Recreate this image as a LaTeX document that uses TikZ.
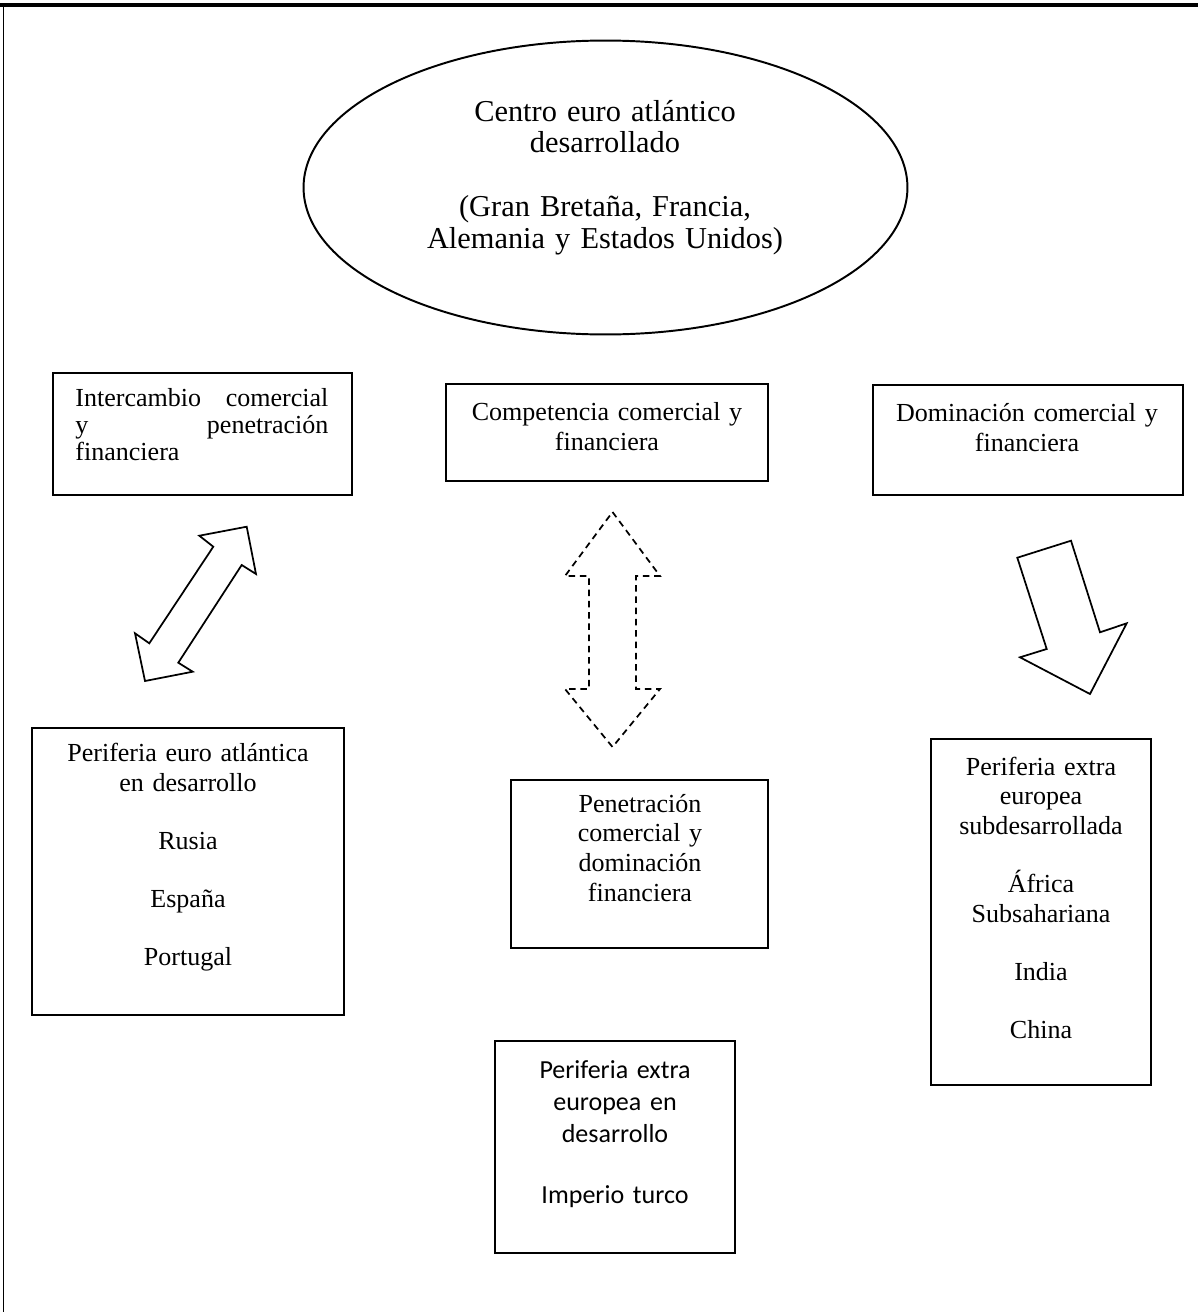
\documentclass[tikz,border=0pt]{standalone}
\usepackage{fontspec}
\setmainfont{Liberation Serif}
\newfontfamily\calibrifont{Carlito}
\usetikzlibrary{fit,shapes.geometric}
\begin{document}
\begin{tikzpicture}[x=0.461pt,y=-0.461pt,
  rectbox/.style={draw=black, line width=1pt, inner sep=0pt, outer sep=0pt},
  blockarrow/.style={draw=black, line width=0.8pt, line join=miter},
  dasharrow/.style={blockarrow, dash pattern=on 3pt off 2.2pt},
  txt/.style={anchor=base, align=center, inner sep=0pt, text width=160pt,
    font=\fontsize{12}{13.8}\selectfont},
]
\useasboundingbox (0,0) rectangle (1198,1312);

% page frame: top and left edges
\draw[line width=1.6pt] (0,5) -- (1198,5);
\draw[line width=0.9pt] (3.5,5) -- (3.5,1312);

% developed Euro-Atlantic centre
\node[draw=black, line width=0.9pt, ellipse, inner sep=0pt,
  minimum width=278.4pt, minimum height=135.5pt] (centro) at (605.5,187.5) {};
\node[txt, text width=220pt, font=\fontsize{14}{14.75}\selectfont] (tcentro) at (605,121)
  {Centro euro atlántico\\desarrollado\\[14.3pt](Gran Bretaña, Francia,\\Alemania y Estados Unidos)};

% relation boxes
\node[rectbox, fit={(53,373) (352,495)}] (inter) {};
\node[txt, anchor=base west, align=left, text width=116.6pt,
  font=\fontsize{12}{12.45}\selectfont] (tinter) at (75,406.7)
  {Intercambio\hfill comercial\\y\hfill penetración\\financiera\hfill\null};

\node[rectbox, fit={(446,384) (768,481)}] (compet) {};
\node[txt] (tcompet) at (607,420.7) {Competencia comercial y\\financiera};

\node[rectbox, fit={(873,385) (1183,495)}] (domin) {};
\node[txt] (tdomin) at (1027,421.7) {Dominación comercial y\\financiera};

% peripheries
\node[rectbox, fit={(32,728) (344,1015)}] (peuro) {};
\node[txt] (tpeuro) at (188,761.7)
  {Periferia euro atlántica\\en desarrollo\\[12.9pt]Rusia\\[12.9pt]España\\[12.9pt]Portugal};

\node[rectbox, fit={(511,780) (768,948)}] (penet) {};
\node[txt] (tpenet) at (640,812)
  {Penetración\\comercial y\\dominación\\financiera};

\node[rectbox, fit={(931,739) (1151,1085)}] (psub) {};
\node[txt] (tpsub) at (1041,775)
  {Periferia extra\\europea\\subdesarrollada\\[12.9pt]África\\Subsahariana\\[12.9pt]India\\[12.9pt]China};

\node[rectbox, fit={(495,1041) (735,1253)}] (pturco) {};
\node[txt, font=\calibrifont\fontsize{12}{14.75}\selectfont] (tpturco) at (615,1078)
  {Periferia extra\\europea en\\desarrollo\\[13.4pt]Imperio turco};

% two-headed diagonal block arrow
\draw[blockarrow] (246.7,526.7) -- (256,574) -- (241.7,565) -- (178.3,662.7)
  -- (192.7,671.7) -- (145,681) -- (135,633.3) -- (149.3,643.3)
  -- (213.3,546.7) -- (199.3,535.7) -- cycle;

% dashed two-headed vertical block arrow
\draw[dasharrow] (612.5,512) -- (660,576) -- (636,576) -- (636,689)
  -- (660,689) -- (612.5,747) -- (565,689) -- (589,689)
  -- (589,576) -- (565,576) -- cycle;

% downward block arrow
\draw[blockarrow] (1017.3,557.7) -- (1071,540.7) -- (1100,632.3) -- (1126.7,623.3)
  -- (1090,694) -- (1020,657.3) -- (1046.7,649) -- cycle;
\end{tikzpicture}
\end{document}
